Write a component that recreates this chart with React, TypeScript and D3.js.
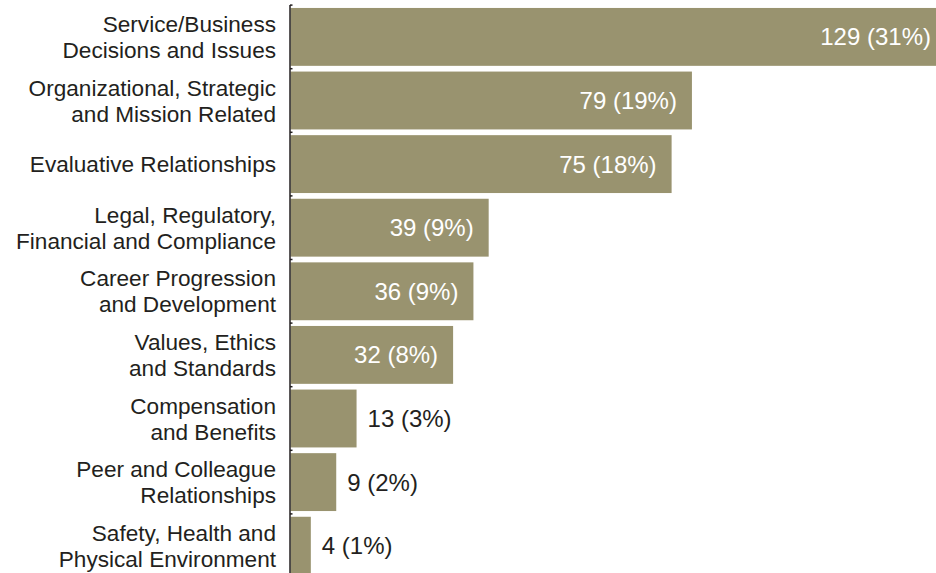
import { useEffect, useRef } from 'react'
import * as d3 from 'd3'

// Categories (each broken into the lines shown in the chart)
const categories: string[][] = [
  ['Service/Business', 'Decisions and Issues'],
  ['Organizational, Strategic', 'and Mission Related'],
  ['Evaluative Relationships'],
  ['Legal, Regulatory,', 'Financial and Compliance'],
  ['Career Progression', 'and Development'],
  ['Values, Ethics', 'and Standards'],
  ['Compensation', 'and Benefits'],
  ['Peer and Colleague', 'Relationships'],
  ['Safety, Health and', 'Physical Environment'],
]
const counts = [129, 79, 75, 39, 36, 32, 13, 9, 4]
const percents = [31, 19, 18, 9, 9, 8, 3, 2, 1]

export default function App() {
  const svgRef = useRef<SVGSVGElement>(null)
  const width = 936
  const height = 573

  useEffect(() => {
    if (!svgRef.current) return

    const barColor = '#99936f'
    const textColor = '#231f20'
    const font = '"Liberation Sans", Arial, Helvetica, sans-serif'
    const catSize = 22.6
    const valSize = 24
    const lineHeight = 26
    const axisX = 290
    const insideMin = 30 // values at or above this get their label inside the bar

    const keys = categories.map((_, i) => String(i))
    const data = keys.map((k, i) => ({ key: k, lines: categories[i], value: counts[i], pct: percents[i] }))

    const svg = d3.select(svgRef.current)
    svg.selectAll('*').remove()

    const x = d3.scaleLinear()
      .domain([0, 129])
      .range([axisX + 0.5, 946])

    const y = d3.scaleBand()
      .domain(keys)
      .range([5.1, 5.1 + 63.6 * keys.length])
      .paddingInner(0.09)
      .paddingOuter(0.045)

    // Bars
    svg.append('g')
      .selectAll('rect')
      .data(data)
      .join('rect')
      .attr('x', x(0))
      .attr('y', d => y(d.key)!)
      .attr('width', d => x(d.value) - x(0))
      .attr('height', y.bandwidth())
      .attr('fill', barColor)

    // Axis line with little ticks in the gaps
    const axis = svg.append('g')
    axis.append('line')
      .attr('x1', axisX).attr('x2', axisX)
      .attr('y1', y.range()[0]).attr('y2', height)
      .attr('stroke', textColor)
      .attr('stroke-width', 1.5)
    const gaps = [y.range()[0], ...keys.slice(1).map(k => y(k)! - (y.step() - y.bandwidth()) / 2)]
    axis.selectAll('.tick')
      .data(gaps)
      .join('line')
      .attr('class', 'tick')
      .attr('x1', axisX).attr('x2', axisX + 2.5)
      .attr('y1', d => d).attr('y2', d => d)
      .attr('stroke', textColor)
      .attr('stroke-width', 1.5)

    // Category labels
    const cat = svg.append('g')
      .attr('font-family', font)
      .attr('font-size', catSize)
      .attr('fill', textColor)
      .attr('text-anchor', 'end')
    data.forEach(d => {
      const cy = y(d.key)! + y.bandwidth() / 2
      const n = d.lines.length
      const t = cat.append('text')
      d.lines.forEach((line, i) => {
        t.append('tspan')
          .attr('x', axisX - 14)
          .attr('y', cy + (i - (n - 1) / 2) * lineHeight + 8)
          .text(line)
      })
    })

    // Value labels
    svg.append('g')
      .attr('font-family', font)
      .attr('font-size', valSize)
      .selectAll('text')
      .data(data)
      .join('text')
      .attr('x', d => d.value >= insideMin ? x(d.value) - 15 : x(d.value) + 11)
      .attr('y', d => y(d.key)! + y.bandwidth() / 2 + 8.5)
      .attr('text-anchor', d => d.value >= insideMin ? 'end' : 'start')
      .attr('fill', d => d.value >= insideMin ? '#ffffff' : textColor)
      .text(d => `${d.value} (${d.pct}%)`)

    return () => {
      svg.selectAll('*').remove()
    }
  }, [])

  return (
    <svg
      ref={svgRef}
      width={width}
      height={height}
      style={{ position: 'absolute', left: 0, top: 0, background: '#ffffff' }}
    />
  )
}
